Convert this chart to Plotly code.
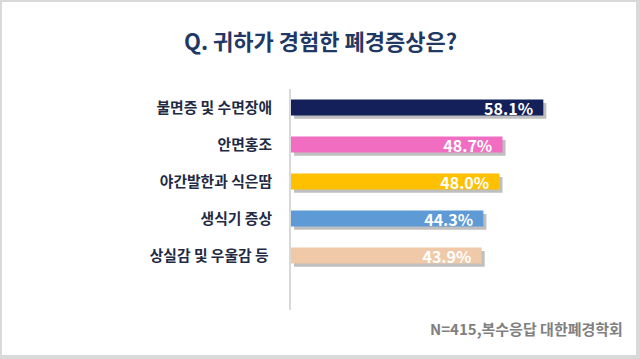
import plotly.graph_objects as go

categories = ["불면증 및 수면장애", "안면홍조", "야간발한과 식은땀", "생식기 증상", "상실감 및 우울감 등\u00a0"]
values = [58.1, 48.7, 48.0, 44.3, 43.9]
colors = ["#13205a", "#f06dc2", "#ffc000", "#5d9ad6", "#efc9a8"]
title_text = "Q. 귀하가 경험한 폐경증상은?"
note_text = "N=415,복수응답 대한폐경학회"

KR = "Noto Sans CJK KR"
BW = 0.43

fig = go.Figure()
# drop shadow
fig.add_trace(go.Bar(
    y=categories, x=values, orientation="h", base=0.7,
    width=BW, offset=-BW / 2 + 0.09,
    marker=dict(color="rgba(60,60,60,0.33)", line=dict(width=0)),
    hoverinfo="skip", showlegend=False,
))
fig.add_trace(go.Bar(
    y=categories, x=values, orientation="h",
    width=BW, offset=-BW / 2,
    marker=dict(color=colors, line=dict(width=0)),
    texttemplate="%{x:.1f}%  ", textposition="inside", insidetextanchor="end",
    constraintext="none",
    textfont=dict(family=KR, size=16, color="white", weight="bold"),
    showlegend=False,
))

L, T, W, H = 291, 89, 304, 221

fig.update_layout(
    width=640, height=359,
    barmode="overlay",
    paper_bgcolor="#d9d9d9",
    plot_bgcolor="rgba(0,0,0,0)",
    margin=dict(l=L, r=640 - L - W, t=T, b=359 - T - H),
    xaxis=dict(range=[0, 70], visible=False, fixedrange=True),
    yaxis=dict(
        categoryorder="array", categoryarray=categories,
        range=[5.47, -0.5],
        showline=True, linecolor="#d9d9d9", linewidth=2,
        showgrid=False, zeroline=False, ticks="",
        ticklabelstandoff=14, fixedrange=True,
        tickfont=dict(family=KR, size=14.8, color="#1f2a44", weight="bold"),
    ),
    shapes=[dict(type="rect", xref="paper", yref="paper",
                 x0=(2 - L) / W, x1=(636 - L) / W,
                 y0=-(355 - T - H) / H, y1=1 + (T - 2) / H,
                 fillcolor="white", line=dict(width=0), layer="below")],
    annotations=[
        dict(text=title_text, xref="paper", yref="paper",
             x=(320 - L) / W, y=1 + (T - 40) / H,
             xanchor="center", yanchor="middle", showarrow=False,
             font=dict(family=KR, size=22, color="#1f3864", weight="bold")),
        dict(text=note_text, xref="paper", yref="paper",
             x=(625 - L) / W, y=-(328 - T - H) / H,
             xanchor="right", yanchor="middle", showarrow=False,
             font=dict(family=KR, size=15, color="#808080", weight="bold")),
    ],
)

fig.write_html("out.html", config={"displayModeBar": False},
               post_script="document.body.style.margin='0';")
